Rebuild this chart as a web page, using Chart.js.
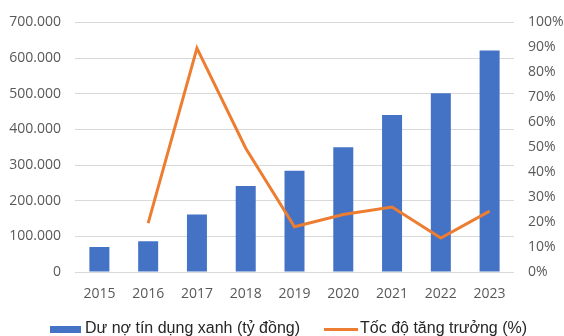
<!DOCTYPE html>
<html>
<head>
<meta charset="utf-8">
<script src="https://cdn.jsdelivr.net/npm/chart.js@4"></script>
<style>
  html, body { margin: 0; padding: 0; background: #fff; }
  #wrap { width: 564px; height: 336px; }
</style>
</head>
<body>
<div id="wrap"><canvas id="myChart" width="564" height="336"></canvas></div>
<script>
const years = ['2015', '2016', '2017', '2018', '2019', '2020', '2021', '2022', '2023'];
const greenCredit = [70000, 86000, 161000, 241000, 284000, 350000, 440000, 501000, 621000];
const growthRate = [null, 19.6, 89.7, 49.6, 18.1, 23, 26, 13.6, 24.4];
const leftTicks = [0, 100000, 200000, 300000, 400000, 500000, 600000, 700000];
const rightTicks = [0, 10, 20, 30, 40, 50, 60, 70, 80, 90, 100];

const barLabel = 'Dư nợ tín dụng xanh (tỷ đồng)';
const lineLabel = 'Tốc độ tăng trưởng (%)';

const BLUE = '#4472C4';
const ORANGE = '#ED7D31';
const FONT = "'Open Sans', sans-serif";
const LEGEND_FONT = "'Liberation Sans', Arial, sans-serif";

// legend swatches drawn as small canvases
function swatch(w, h, color) {
    const c = document.createElement('canvas');
    c.width = w;
    c.height = h;
    const g = c.getContext('2d');
    g.fillStyle = color;
    g.fillRect(0, 0, w, h);
    return c;
}
const barSwatch = swatch(31, 7, BLUE);
const lineSwatch = swatch(34, 3, ORANGE);

function formatThousands(v) {
    if (v === 0) return '0';
    return v.toString().replace(/\B(?=(\d{3})+(?!\d))/g, '.');
}

// keep the legend box a fixed height so the plot area matches the original,
// and nudge it right a bit (the original legend is not quite centred)
const legendTweak = {
    id: 'legendTweak',
    afterInit(chart) {
        const lg = chart.legend;
        const fit = lg.fit;
        lg.fit = function () {
            fit.call(this);
            this.height = 45;
        };
    },
    afterLayout(chart) {
        chart.legend.left += 9;
        chart.legend.right += 9;
    }
};

const ctx = document.getElementById('myChart').getContext('2d');

new Chart(ctx, {
    data: {
        labels: years,
        datasets: [
            {
                type: 'line',
                label: lineLabel,
                data: growthRate,
                yAxisID: 'y1',
                borderColor: ORANGE,
                backgroundColor: ORANGE,
                borderWidth: 3,
                pointRadius: 0,
                tension: 0,
                pointStyle: lineSwatch,
                order: 0
            },
            {
                type: 'bar',
                label: barLabel,
                data: greenCredit,
                yAxisID: 'y',
                backgroundColor: BLUE,
                borderColor: BLUE,
                borderWidth: 0,
                categoryPercentage: 0.82,
                barPercentage: 0.5,
                pointStyle: barSwatch,
                order: 1
            }
        ]
    },
    options: {
        responsive: false,
        animation: false,
        layout: { padding: { top: 22, bottom: 0, left: 0, right: 0 } },
        scales: {
            x: {
                grid: { display: false },
                border: { display: false },
                ticks: { color: '#595959', font: { family: FONT, size: 14 }, padding: 6 },
                afterFit: function (scale) {
                    scale.height = 19;
                    // labels hang below the short box, so don't clip them
                    scale._computeLabelArea = function () { return undefined; };
                }
            },
            y: {
                position: 'left',
                min: 0,
                max: 700000,
                afterBuildTicks: function (scale) { scale.ticks = leftTicks.map(v => ({ value: v })); },
                grid: { color: '#d9d9d9', lineWidth: 1, drawTicks: false },
                border: { display: false },
                ticks: {
                    color: '#595959',
                    font: { family: FONT, size: 14 },
                    padding: 14,
                    callback: function (value) { return formatThousands(value); }
                },
                afterFit: function (scale) { scale.width = 75; }
            },
            y1: {
                position: 'right',
                min: 0,
                max: 100,
                afterBuildTicks: function (scale) { scale.ticks = rightTicks.map(v => ({ value: v })); },
                grid: { display: false, drawTicks: false },
                border: { display: false },
                ticks: {
                    color: '#595959',
                    font: { family: FONT, size: 14 },
                    padding: 14,
                    callback: function (value) { return value + '%'; }
                },
                afterFit: function (scale) { scale.width = 50; }
            }
        },
        plugins: {
            legend: {
                position: 'bottom',
                reverse: true,
                labels: {
                    usePointStyle: true,
                    pointStyleWidth: 22,
                    color: '#262626',
                    font: { family: LEGEND_FONT, size: 16 },
                    padding: 30
                }
            },
            tooltip: { enabled: false }
        }
    },
    plugins: [legendTweak]
});
</script>
</body>
</html>
